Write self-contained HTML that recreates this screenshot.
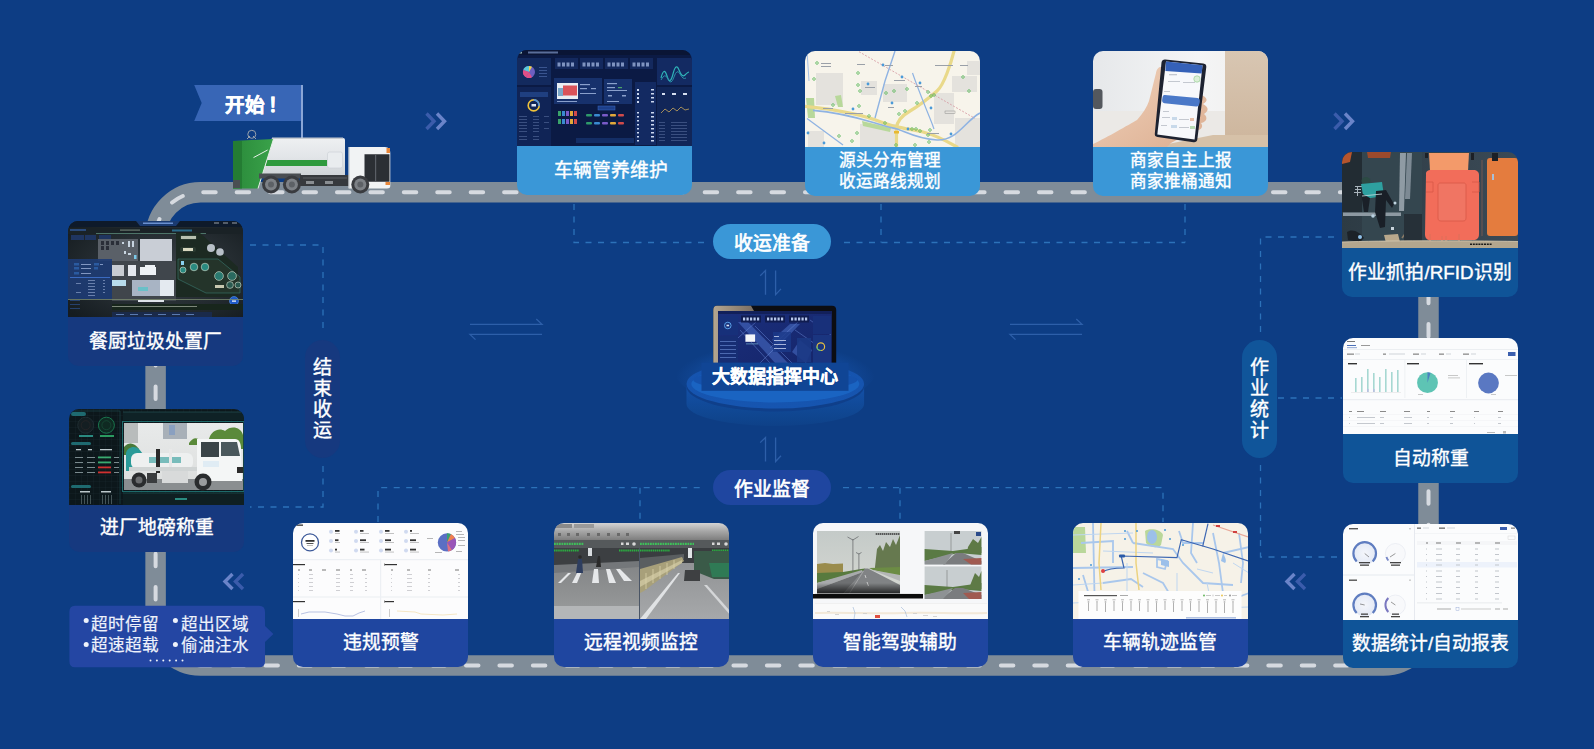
<!DOCTYPE html>
<html lang="zh-CN">
<head>
<meta charset="utf-8">
<style>
*{margin:0;padding:0;box-sizing:border-box}
html,body{width:1594px;height:749px;overflow:hidden;background:#0d3d84}
body{font-family:"Liberation Sans",sans-serif;color:#fff}
#wrap{position:relative;width:1594px;height:749px;overflow:hidden;background:#0d3d84}
.abs{position:absolute}
svg.full{position:absolute;left:0;top:0}
.card{position:absolute;width:175px;height:145px;border-radius:10px;overflow:hidden}
.card .img{position:absolute;left:0;top:0;width:100%;height:96px;overflow:hidden}
.card .lbl{position:absolute;left:0;top:96px;width:100%;bottom:0;display:flex;align-items:center;justify-content:center;text-align:center;font-size:18.8px;font-weight:400;line-height:20px;letter-spacing:0;-webkit-text-stroke:0.4px #fff}
.card .lbl.two{font-size:16.6px;line-height:20.9px}
.c1 .lbl{background:#3a97d7}
.c2 .lbl{background:#0f5498}
.c3 .lbl{background:#1f46a0}
.c4 .lbl{background:#16397f}
.pill{position:absolute;border-radius:18px;display:flex;align-items:center;justify-content:center;font-size:18.8px;font-weight:400;-webkit-text-stroke:0.7px #fff;padding-bottom:1px}
.nt{font-size:16.6px;line-height:20px;color:#eef2fb;white-space:nowrap;-webkit-text-stroke:0.2px #eef2fb}
.vpill{position:absolute;width:35px;height:118px;border-radius:18px;font-size:19px;font-weight:400;line-height:21px;text-align:center;padding-top:17px;-webkit-text-stroke:0.4px #fff}
</style>
</head>
<body>
<div id="wrap">

<!-- ROAD + DASHED LINES + ARROWS -->
<svg class="full" width="1594" height="749" viewBox="0 0 1594 749">
  <!-- dashed connectors -->
  <g fill="none" stroke="#2c72b9" stroke-width="1.3" stroke-dasharray="6 6.5">
    <path d="M574 204 V242.5 H704"/>
    <path d="M844 242.5 H1185 M881 204 V242.5 M1185 204 V242.5"/>
    <path d="M1334 237 H1260.5 V338"/>
    <path d="M1278 398 H1342"/>
    <path d="M1260.5 465 V557 H1342"/>
    <path d="M250 245 H323 V329"/>
    <path d="M323 466 V507 H250"/>
    <path d="M378 522 V487.7 H704"/>
    <path d="M640 487.7 V522"/>
    <path d="M843 487.7 H1163 V522 M900 487.7 V522"/>
  </g>
  <!-- road -->
  <path d="M200.5 192.3 H1383.5 A45 45 0 0 1 1428.5 237.3 V620.4 A45 45 0 0 1 1383.5 665.4 H200.5 A45 45 0 0 1 155.6 620.4 V237.3 A45 45 0 0 1 200.5 192.3 Z" fill="none" stroke="#7f8c98" stroke-width="20.5"/>
  <g fill="none" stroke="#d6dae0" stroke-width="4" stroke-linecap="round" stroke-dasharray="12.5 20.93">
    <path d="M155.6 237.3 A45 45 0 0 1 200.5 192.3 H1383.5" stroke-dashoffset="27.1"/>
    <path d="M1428.5 237.3 V620.4" stroke-dashoffset="13.49"/>
    <path d="M155.6 620.4 A45 45 0 0 0 200.5 665.4 H1383.5" stroke-dashoffset="31.77"/>
    <path d="M155.6 237.3 V620.4" stroke-dashoffset="17.95"/>
  </g>

  <!-- chevrons -->
  <g fill="none" stroke-width="3.4" stroke-linejoin="miter">
    <path d="M426.5 113.5 L434 121.2 L426.5 129" stroke="#3b5cab"/>
    <path d="M437 113.5 L444.5 121.2 L437 129" stroke="#6a84c9"/>
    <path d="M1334.5 113.5 L1342 121.2 L1334.5 129" stroke="#3b5cab"/>
    <path d="M1345 113.5 L1352.5 121.2 L1345 129" stroke="#6a84c9"/>
    <path d="M1294.5 574 L1287 581.5 L1294.5 589" stroke="#6a84c9"/>
    <path d="M1305 574 L1297.5 581.5 L1305 589" stroke="#3b5cab"/>
    <path d="M232.5 574 L225 581.5 L232.5 589" stroke="#6a84c9"/>
    <path d="M243 574 L235.5 581.5 L243 589" stroke="#3b5cab"/>
  </g>
  <!-- thin exchange arrows -->
  <g fill="none" stroke="#2d5fa9" stroke-width="1.3">
    <path d="M470 324.4 H542 L536.3 319"/>
    <path d="M542 334.4 H470 L475.5 339.6"/>
    <path d="M1010 324.4 H1082 L1076.3 319"/>
    <path d="M1082 334.4 H1010 L1015.5 339.6"/>
    <path d="M765.5 294.7 V270.6 L760.2 275.7"/>
    <path d="M775.6 270.6 V294.7 L781 288.9"/>
    <path d="M765.5 461.5 V437.5 L760.2 442.6"/>
    <path d="M775.6 437.5 V461.5 L781 455.7"/>
  </g>
</svg>

<!-- TOP ROW -->
<div class="card c1" style="left:517px;top:50px"><div class="img" id="imgA"><svg id="svA" width="175" height="96" viewBox="0 0 175 96" preserveAspectRatio="none">
 <rect width="175" height="96" fill="#0b1a44"/>
 <rect width="175" height="5" fill="#0a1535"/>
 <rect x="2" y="1.5" width="3" height="2" fill="#9bb"/>
 <rect x="11" y="1.5" width="30" height="2" fill="#5a6e9a"/>
 <rect x="0" y="8" width="34" height="27" fill="#132a5e"/>
 <rect x="0" y="37" width="34" height="59" fill="#102456"/>
 <circle cx="12" cy="22" r="6" fill="#6c5fc0"/>
 <path d="M12 22 L12 16 A6 6 0 0 0 6.3 20 Z" fill="#5bc8d8"/>
 <path d="M12 22 L6.3 20 A6 6 0 0 0 9 27.2 Z" fill="#e24f86"/>
 <path d="M12 22 L9 27.2 A6 6 0 0 0 15 27.2 Z" fill="#e24f86"/>
 <path d="M12 22 L12 16 A6 6 0 0 1 15 16.8 Z" fill="#f2d34a"/>
 <g fill="#3a5590"><rect x="22" y="17" width="8" height="1"/><rect x="22" y="20" width="8" height="1"/><rect x="22" y="23" width="8" height="1"/><rect x="22" y="26" width="8" height="1"/></g>
 <rect x="3" y="42" width="28" height="5" fill="#1f3f80"/>
 <circle cx="16.7" cy="55.4" r="5.5" fill="none" stroke="#f0c23a" stroke-width="1.6"/>
 <path d="M16.7 49.9 A5.5 5.5 0 0 1 22 56" fill="none" stroke="#4d8fe0" stroke-width="1.6"/>
 <rect x="14.5" y="54" width="4.5" height="2.5" fill="#dfe6f5"/>
 <g fill="#3a4f80"><rect x="2" y="66" width="8" height="1"/><rect x="16" y="66" width="6" height="1"/><rect x="27" y="66" width="5" height="1"/>
 <rect x="2" y="69" width="8" height="1"/><rect x="16" y="69" width="6" height="1"/><rect x="2" y="72" width="8" height="1"/><rect x="16" y="72" width="6" height="1"/><rect x="27" y="72" width="5" height="1"/>
 <rect x="2" y="75" width="8" height="1"/><rect x="16" y="75" width="6" height="1"/><rect x="2" y="78" width="8" height="1"/><rect x="16" y="78" width="6" height="1"/><rect x="27" y="78" width="5" height="1"/>
 <rect x="2" y="81" width="8" height="1"/><rect x="16" y="81" width="6" height="1"/><rect x="2" y="86" width="8" height="1"/><rect x="16" y="86" width="6" height="1"/><rect x="2" y="89" width="8" height="1"/><rect x="16" y="89" width="6" height="1"/></g>
 <g fill="#14295e"><rect x="38" y="8" width="23" height="11"/><rect x="63" y="8" width="23" height="11"/><rect x="88" y="8" width="23" height="11"/><rect x="113" y="8" width="23" height="11"/></g>
 <g fill="#7f93c0"><rect x="40.5" y="12.5" width="3" height="4"/><rect x="45" y="12.5" width="3" height="4"/><rect x="49.5" y="12.5" width="3" height="4"/><rect x="54" y="12.5" width="3" height="4"/>
 <rect x="65.5" y="12.5" width="3" height="4"/><rect x="70" y="12.5" width="3" height="4"/><rect x="74.5" y="12.5" width="3" height="4"/><rect x="79" y="12.5" width="3" height="4"/>
 <rect x="90.5" y="12.5" width="3" height="4"/><rect x="95" y="12.5" width="3" height="4"/><rect x="99.5" y="12.5" width="3" height="4"/><rect x="104" y="12.5" width="3" height="4"/>
 <rect x="115.5" y="12.5" width="3" height="4"/><rect x="120" y="12.5" width="3" height="4"/><rect x="124.5" y="12.5" width="3" height="4"/><rect x="129" y="12.5" width="3" height="4"/></g>
 <rect x="37" y="28" width="48" height="26" fill="#17316c"/>
 <rect x="40" y="33" width="21" height="16" fill="#e8eef4"/>
 <rect x="46" y="35.5" width="14" height="10" fill="#d9535a"/>
 <rect x="41" y="38" width="5" height="8" fill="#7aa7c8"/>
 <g fill="#8aa0cc"><rect x="63" y="34" width="10" height="1.2"/><rect x="63" y="38" width="7" height="1.2"/><rect x="74" y="38" width="5" height="1.2"/><rect x="63" y="43" width="16" height="1"/><rect x="40" y="51" width="20" height="1"/></g>
 <rect x="87" y="29" width="28" height="25" fill="#17316c"/>
 <g fill="#8aa0cc"><rect x="90" y="33" width="10" height="1.2"/><rect x="90" y="37" width="8" height="1.2"/><rect x="101" y="37" width="4" height="1.2" fill="#4ca36a"/><rect x="90" y="40" width="20" height="1"/><rect x="91" y="45" width="4" height="1.5"/><rect x="105" y="45" width="4" height="1.5"/><rect x="90" y="51" width="12" height="1"/></g>
 <rect x="118" y="32" width="21" height="63" fill="#132a62"/>
 <g fill="#ccd7ee"><rect x="120" y="39" width="2" height="2"/><rect x="120" y="43" width="2" height="2"/><rect x="120" y="47" width="2" height="2"/><rect x="120" y="51" width="2" height="2"/>
 <rect x="120" y="62" width="2" height="1.5"/><rect x="120" y="66" width="2" height="1.5"/><rect x="120" y="70" width="2" height="1.5"/><rect x="120" y="74" width="2" height="1.5"/><rect x="120" y="78" width="2" height="1.5"/><rect x="120" y="82" width="2" height="1.5"/><rect x="120" y="86" width="2" height="1.5"/><rect x="120" y="90" width="2" height="1.5"/>
 <rect x="134" y="39" width="3" height="1.5"/><rect x="134" y="43" width="3" height="1.5"/><rect x="134" y="47" width="3" height="1.5"/><rect x="134" y="51" width="3" height="1.5"/><rect x="134" y="62" width="3" height="1.5"/><rect x="134" y="66" width="3" height="1.5"/><rect x="134" y="70" width="3" height="1.5"/><rect x="134" y="74" width="3" height="1.5"/><rect x="134" y="78" width="3" height="1.5"/><rect x="134" y="82" width="3" height="1.5"/><rect x="134" y="86" width="3" height="1.5"/><rect x="134" y="90" width="3" height="1.5"/></g>
 <rect x="140" y="8" width="35" height="27" fill="#132a62"/>
 <path d="M144 28 Q147 16 150 26 T156 24 T162 20 T168 25 T172 22" fill="none" stroke="#2fb3b8" stroke-width="1.2"/>
 <path d="M144 30 Q148 22 151 29 T157 27 T163 24 T169 28" fill="none" stroke="#2a8fa8" stroke-width="1"/>
 <rect x="140" y="37" width="35" height="59" fill="#112658"/>
 <g fill="#d5def0"><rect x="145" y="43" width="3" height="2"/><rect x="155" y="43" width="4" height="2"/><rect x="166" y="43" width="4" height="2"/></g>
 <path d="M144 63 L148 59 L152 62 L156 58 L160 61 L164 57 L168 60 L172 59" fill="none" stroke="#c9a75a" stroke-width="0.8"/>
 <g fill="#3a4f80"><rect x="142" y="72" width="6" height="1"/><rect x="154" y="72" width="16" height="1"/><rect x="142" y="75" width="6" height="1"/><rect x="154" y="75" width="16" height="1"/><rect x="142" y="78" width="6" height="1"/><rect x="154" y="78" width="16" height="1"/><rect x="142" y="81" width="6" height="1"/><rect x="154" y="81" width="16" height="1"/><rect x="142" y="84" width="6" height="1"/><rect x="154" y="84" width="16" height="1"/><rect x="142" y="87" width="6" height="1"/><rect x="154" y="87" width="16" height="1"/><rect x="142" y="90" width="6" height="1"/><rect x="154" y="90" width="16" height="1"/></g>
 <g><rect x="41" y="61" width="3" height="5" fill="#3aa36a"/><rect x="45" y="61" width="3" height="5" fill="#3a8ad0"/><rect x="49" y="61" width="3" height="5" fill="#7a5ac8"/><rect x="53" y="61" width="3" height="5" fill="#e0a83a"/><rect x="57" y="61" width="3" height="5" fill="#d04a4a"/>
 <rect x="41" y="69" width="3" height="5" fill="#3aa36a"/><rect x="45" y="69" width="3" height="5" fill="#3a8ad0"/><rect x="49" y="69" width="3" height="5" fill="#7a5ac8"/><rect x="53" y="69" width="3" height="5" fill="#e0a83a"/><rect x="57" y="69" width="3" height="5" fill="#d04a4a"/>
 <rect x="69" y="64" width="6" height="2.5" rx="1" fill="#2f9a6a"/><rect x="77" y="64" width="6" height="2.5" rx="1" fill="#3a8ad0"/><rect x="85" y="64" width="6" height="2.5" rx="1" fill="#7a5ac8"/><rect x="93" y="64" width="6" height="2.5" rx="1" fill="#e0a83a"/><rect x="101" y="64" width="6" height="2.5" rx="1" fill="#d04a4a"/>
 <rect x="69" y="72" width="6" height="2.5" rx="1" fill="#2f9a6a"/><rect x="77" y="72" width="6" height="2.5" rx="1" fill="#3a8ad0"/><rect x="85" y="72" width="6" height="2.5" rx="1" fill="#7a5ac8"/><rect x="93" y="72" width="6" height="2.5" rx="1" fill="#e0a83a"/><rect x="101" y="72" width="6" height="2.5" rx="1" fill="#d04a4a"/></g>
 <rect x="81" y="56" width="17" height="4" fill="#1d3f8a" stroke="#3a6ac0" stroke-width="0.5"/>
 <rect x="59" y="88" width="58" height="5" fill="#142e66"/>
</svg></div><div class="lbl" style="padding-left:12px">车辆管养维护</div></div>
<div class="card c1" style="left:805px;top:51px"><div class="img" id="imgB"><svg id="svB" width="175" height="96" viewBox="0 0 175 96" preserveAspectRatio="none">
 <rect width="175" height="96" fill="#f7f4eb"/>
 <g fill="#e4e2dd">
  <rect x="11" y="22" width="27" height="32"/><rect x="78" y="33" width="24" height="18"/><rect x="55" y="73" width="36" height="23"/>
  <rect x="129" y="42" width="20" height="31"/><rect x="147" y="25" width="25" height="16"/><rect x="150" y="67" width="25" height="29"/>
  <rect x="56" y="30" width="16" height="14"/><rect x="162" y="10" width="13" height="14"/><rect x="3" y="80" width="16" height="16"/>
 </g>
 <path d="M1 47 L3 67 L10 67 L9 47 Z" fill="#b8d89a"/>
 <path d="M30 45 L36 44 L38 56 L33 56 Z" fill="#b8d89a"/>
 <path d="M57 70 L86 77 L85 81 L58 75 Z" fill="#b8d89a"/>
 <g fill="none" stroke="#e9d98a" stroke-linecap="round">
  <path d="M0 55.4 C20 57 35 60 51 63.4 S80 73 90 75.4 S110 79 118 81 S140 89 152 96" stroke-width="3.2"/>
  <path d="M91.5 96 L91.5 77 C92 70 98 64 105 60 S125 46 132 40 S146 12 149 0" stroke-width="3.2"/>
 </g>
 <g fill="none" stroke="#8fb3e2">
  <path d="M90 0 L80 30 L70 67" stroke-width="1.4"/>
  <path d="M8 59.4 C30 61 50 66 70 72 S85 76 92 78 S112 88 132 89 S160 70 175 62" stroke-width="1.6"/>
  <path d="M107.5 22 C112 35 118 50 122 60 S127 72 129 78" stroke-width="1.2"/>
  <path d="M2 67.4 L38 94" stroke-width="1.3"/>
  <path d="M2 0 L4 30" stroke-width="0.8"/>
 </g>
 <path d="M54 0.7 L170 67.4" stroke="#d8a0a8" stroke-width="0.9" stroke-dasharray="2 1.5"/>
 <g fill="none" stroke="#5ab85a" stroke-width="0.8">
  <circle cx="12" cy="12" r="1.3"/><circle cx="9" cy="28" r="1.3"/><circle cx="53" cy="22" r="1.3"/><circle cx="53" cy="34" r="1.3"/><circle cx="55" cy="40" r="1.3"/>
  <circle cx="81" cy="42" r="1.3"/><circle cx="89" cy="40" r="1.3"/><circle cx="102" cy="38" r="1.3"/><circle cx="112" cy="52" r="1.3"/><circle cx="123" cy="41" r="1.3"/>
  <circle cx="126" cy="45" r="1.3"/><circle cx="129" cy="44" r="1.3"/><circle cx="28" cy="54" r="1.3"/><circle cx="54" cy="55" r="1.3"/><circle cx="64" cy="65" r="1.3"/>
  <circle cx="80" cy="72" r="1.3"/><circle cx="94" cy="63" r="1.3"/><circle cx="100" cy="60" r="1.3"/><circle cx="107" cy="78" r="1.3"/><circle cx="111" cy="78" r="1.3"/>
  <circle cx="115" cy="80" r="1.3"/><circle cx="125" cy="79" r="1.3"/><circle cx="123" cy="84" r="1.3"/><circle cx="124" cy="91" r="1.3"/><circle cx="34" cy="85" r="1.3"/>
  <circle cx="52" cy="82" r="1.3"/><circle cx="47" cy="90" r="1.3"/><circle cx="158" cy="26" r="1.3"/><circle cx="164" cy="40" r="1.3"/><circle cx="91" cy="94" r="1.3"/><circle cx="110" cy="94" r="1.3"/>
 </g>
 <g fill="#4a9ad8"><circle cx="78" cy="14" r="1.4"/><circle cx="97" cy="26" r="1.4"/><circle cx="63" cy="33" r="1.4"/><circle cx="115" cy="32" r="1.4"/><circle cx="87" cy="52" r="1.4"/><circle cx="48" cy="58" r="1.4"/><circle cx="126" cy="57" r="1.4"/><circle cx="103" cy="78" r="1.4"/><circle cx="146" cy="83" r="1.4"/><circle cx="3" cy="82" r="1.4"/><circle cx="19" cy="92" r="1.4"/></g>
 <g fill="#9aa0a8"><rect x="16" y="12" width="10" height="1"/><rect x="16" y="15" width="10" height="1"/><rect x="52" y="13" width="8" height="1"/><rect x="80" y="14" width="8" height="1"/><rect x="89" y="29" width="11" height="1"/><rect x="60" y="36" width="10" height="1"/><rect x="110" y="35" width="7" height="1"/><rect x="130" y="14" width="18" height="1"/><rect x="155" y="14" width="8" height="1"/><rect x="83" y="56" width="6" height="1"/><rect x="140" y="60" width="10" height="2.5" fill="none" stroke="#777" stroke-width="0.4"/><rect x="18" y="57" width="10" height="1"/><rect x="40" y="62" width="18" height="1"/><rect x="122" y="82" width="12" height="1"/></g>
 <rect x="89" y="80" width="5" height="2.5" fill="#e8b830"/>
</svg></div><div class="lbl two" style="padding-right:6px">源头分布管理<br>收运路线规划</div></div>
<div class="card c1" style="left:1093px;top:51px"><div class="img" id="imgC"><svg id="svC" width="175" height="96" viewBox="0 0 175 96" preserveAspectRatio="none">
 <defs>
  <linearGradient id="gC1" x1="0" y1="0" x2="1" y2="0"><stop offset="0" stop-color="#e6e8ea"/><stop offset="0.6" stop-color="#f4f5f6"/><stop offset="1" stop-color="#f0eeec"/></linearGradient>
  <linearGradient id="gC2" x1="0" y1="0" x2="0" y2="1"><stop offset="0" stop-color="#d8c6b2"/><stop offset="1" stop-color="#cdb59c"/></linearGradient>
  <linearGradient id="gSk" x1="0" y1="0" x2="1" y2="1"><stop offset="0" stop-color="#f0d2bc"/><stop offset="1" stop-color="#dcae90"/></linearGradient>
 </defs>
 <rect width="175" height="96" fill="url(#gC1)"/>
 <rect x="132" y="0" width="43" height="96" fill="url(#gC2)"/>
 <rect x="0" y="60" width="132" height="36" fill="#ebe9e6"/>
 <path d="M60 96 L175 96 L175 84 L120 84 Z" fill="#d6c1a8"/>
 <rect x="0" y="38" width="9.5" height="20" rx="3" fill="#44484f" opacity="0.9"/>
 <path d="M0 96 L0 93 C15 86 35 74 44 69 C50 62 54 56 56 50 L63 22 C64 16 68 15 70 17 L72 40 L108 44 C114 46 116 50 110 53 C116 56 116 60 111 63 C115 66 114 71 108 72 C111 76 108 80 100 80 L78 92 L74 96 Z" fill="url(#gSk)"/>
 <path d="M72.3 8.5 L110.3 12.5 C112.5 12.8 113.5 14 113.3 16 L104.3 88.5 C104 90.5 102.5 91.5 100.5 91.2 L64.5 86 C62.5 85.7 61.5 84.5 61.8 82.5 L68.5 11.5 C68.8 9.3 70.3 8.3 72.3 8.5 Z" fill="#1d2230"/>
 <path d="M73 10.5 L109.5 14.3 L101.6 88.5 L64.3 83.5 Z" fill="#f7f8fb"/>
 <path d="M73 10.5 L109.5 14.3 L108.7 22.4 L72.4 20 Z" fill="#3561b8"/>
 <path d="M72 44 L104.5 47 C106.5 47.2 107 49 106.8 51 L106.3 53 C106 55 104.8 55.6 103 55.4 L71.5 52.2 C69.5 52 68.9 50.6 69.2 48.6 L69.6 46 C70 44.3 71 44 72 44 Z" fill="#4a78c8"/>
 <circle cx="104" cy="28" r="3.2" fill="#dcefd8" stroke="#8cc88a" stroke-width="0.6"/>
 <g fill="#c4c8d0"><rect x="76" y="23" width="8" height="1.3"/><rect x="75" y="30" width="12" height="1"/><rect x="90" y="31" width="12" height="1"/><rect x="71" y="40" width="6" height="1"/><rect x="70" y="60" width="6" height="1"/><rect x="69" y="66" width="8" height="1"/><rect x="86" y="68" width="10" height="1"/><rect x="68" y="74" width="6" height="1"/><rect x="86" y="76" width="10" height="1"/></g>
 <g fill="#c8d9ea"><rect x="79" y="66" width="5" height="3"/><rect x="78" y="74" width="6" height="3"/></g>
 <g fill="#b9dcb4"><rect x="97" y="75" width="5" height="3"/></g>
 <g fill="#e8c0a8"><rect x="97" y="67" width="4" height="3"/></g>
</svg></div><div class="lbl two">商家自主上报<br>商家推桶通知</div></div>

<!-- RIGHT COLUMN -->
<div class="card c2" style="left:1342px;top:152px;width:176px"><div class="img" id="imgD"><svg id="svD" width="176" height="96" viewBox="0 0 176 96" preserveAspectRatio="none">
 <defs>
  <linearGradient id="gD1" x1="0" y1="0" x2="1" y2="0"><stop offset="0" stop-color="#2d3b44"/><stop offset="1" stop-color="#3b4a56"/></linearGradient>
 </defs>
 <rect width="176" height="96" fill="url(#gD1)"/>
 <rect x="20" y="0" width="60" height="90" fill="#34464f"/>
 <rect x="0" y="0" width="20" height="60" fill="#222c33"/>
 <path d="M58 1 L64 1 L62 59 L57 59 Z" fill="#8f9ba4"/>
 <path d="M65 1 L70 1 L68 47 L63 47 Z" fill="#7d8a94"/>
 <rect x="1" y="60.5" width="58" height="3.5" fill="#8d99a2"/>
 <g fill="#a9b4bc"><rect x="13" y="34" width="7" height="1"/><rect x="13" y="37" width="6" height="1"/><rect x="12" y="40" width="7" height="1"/><rect x="15" y="34" width="1" height="10"/></g>
 <path d="M0 0 L10 0 L8 10 L0 12 Z" fill="#b5552e"/>
 <path d="M25 0 L49 0 L48 6 L26 6 Z" fill="#9c4a2c"/>
 <ellipse cx="24" cy="29" rx="4.5" ry="4" fill="#2c4a44"/>
 <path d="M19 32 L40 30 L42 44 L22 47 Z" fill="#2ea0a0"/>
 <path d="M19 41 L28 46 L26 60 L22 60 Z" fill="#1a2028"/>
 <path d="M34 39 L44 38 L52 52 L50 56 L44 48 L43 75 L38 76 L33 60 Z" fill="#191f27"/>
 <path d="M20 44 L40 42" stroke="#c8dde0" stroke-width="0.8"/>
 <circle cx="31" cy="64" r="1.8" fill="#b8d0e0"/><circle cx="53" cy="51" r="1.5" fill="#c0d4e0"/>
 <rect x="49" y="75" width="3" height="3" fill="#c8d4dc"/>
 <path d="M5 80 C10 76 18 80 22 86 L18 90 L6 88 Z" fill="#1c2228"/>
 <circle cx="18" cy="85" r="2" fill="#8ec0e8"/>
 <path d="M42 83 L56 82 L58 90 L44 91 Z" fill="#b8a88c"/>
 <path d="M60 86 L66 78" stroke="#8a7a66" stroke-width="1.5"/>
 <rect x="62" y="62" width="18" height="28" fill="#263038"/>
 <path d="M87 1 L127 1 L126 19 L88 19 Z" fill="#f39a6a"/>
 <rect x="83" y="1" width="3" height="5" fill="#1c2026"/><rect x="129" y="1" width="3" height="7" fill="#1c2026"/>
 <path d="M84 22 C84 19 86 18 89 18 L131 18 C135 18 137 20 137 23 L137 82 C137 86 135 88 131 88 L88 88 C85 88 83 86 83 82 Z" fill="#f26d5a"/>
 <path d="M96 33 C96 32 97 31 98 31 L122 31 C123 31 124 32 124 33 L124 66 C124 68 123 69 121 69 L99 69 C97 69 96 68 96 66 Z" fill="#f07563" stroke="#d85848" stroke-width="0.8"/>
 <path d="M84 30 L91 30 L91 40 L84 40 M130 30 L137 30 L137 40 L130 40" fill="none" stroke="#d85848" stroke-width="0.8"/>
 <path d="M88 82 L88 90 L100 90 L100 84 M104 84 L104 90 L117 90 L117 82" fill="none" stroke="#e0705a" stroke-width="1.2"/>
 <rect x="145" y="6" width="31" height="78" rx="3" fill="#e47c3e"/>
 <rect x="150" y="1" width="6" height="8" fill="#1c2026"/>
 <rect x="150" y="22" width="2" height="6" fill="#a8c0d8"/>
 <path d="M140 8 L140 84" stroke="#d07050" stroke-width="0.4"/>
 <path d="M0 90 C40 88.5 120 88.5 176 89.5 L176 96 L0 96 Z" fill="#b3a68e"/>
 <path d="M0 90 C40 88.5 120 88.5 176 89.5" stroke="#d8ccb4" stroke-width="0.8" fill="none"/>
 <path d="M128 92.2 H150" stroke="#1a1a1a" stroke-width="1.4" stroke-dasharray="2 0.8"/>
</svg></div><div class="lbl">作业抓拍/RFID识别</div></div>
<div class="card c2" style="left:1343px;top:338px"><div class="img" id="imgE"><svg id="svE" width="175" height="96" viewBox="0 0 175 96" preserveAspectRatio="none">
 <rect width="175" height="96" fill="#fbfcfd"/>
 <rect x="0" y="11" width="175" height="0.6" fill="#e3e6ec"/>
 <rect x="4" y="3" width="8" height="1" fill="#777"/>
 <rect x="4" y="7" width="9" height="1" fill="#4a6fb8"/><rect x="4" y="9.5" width="10" height="0.6" fill="#4a6fb8"/><rect x="18" y="7" width="9" height="1" fill="#999"/>
 <g fill="#8a8a8a"><rect x="4" y="15.5" width="7" height="1.3"/><rect x="40" y="15.5" width="3" height="1.3"/><rect x="70" y="15.5" width="6" height="1.3"/><rect x="96" y="15.5" width="5" height="1.3"/><rect x="120" y="15.5" width="6" height="1.3"/></g>
 <g fill="#d0d4da"><rect x="12" y="15.5" width="5" height="1"/><rect x="46" y="15.5" width="16" height="1"/><rect x="78" y="15.5" width="5" height="1"/><rect x="103" y="15.5" width="5" height="1"/><rect x="128" y="15.5" width="5" height="1"/></g>
 <rect x="165" y="14" width="7.5" height="4" fill="#3b5fae"/>
 <rect x="0" y="21" width="175" height="0.8" fill="#eceef2"/>
 <rect x="61.5" y="22" width="0.8" height="38" fill="#eceef2"/><rect x="123" y="22" width="0.8" height="38" fill="#eceef2"/>
 <rect x="0" y="61" width="175" height="1.2" fill="#eceef2"/>
 <g fill="#333"><rect x="5" y="25" width="9" height="1.4"/><rect x="64" y="25" width="12" height="1.4"/><rect x="126" y="25" width="14" height="1.4"/></g>
 <g fill="#a6d8d2"><rect x="12" y="40" width="1.6" height="14"/><rect x="18" y="39" width="1.6" height="15"/><rect x="24" y="31" width="1.6" height="23"/><rect x="30" y="35" width="1.6" height="19"/><rect x="36" y="39" width="1.6" height="15"/><rect x="42" y="31" width="1.6" height="23"/><rect x="48" y="34" width="1.6" height="20"/><rect x="54" y="32" width="1.6" height="22"/></g>
 <g fill="#b8c0e0"><rect x="24" y="51" width="1.6" height="3"/><rect x="30" y="51" width="1.6" height="3"/></g>
 <rect x="8" y="54" width="50" height="0.5" fill="#ddd"/>
 <circle cx="84.5" cy="44.7" r="10.4" fill="#5ec4b4"/>
 <path d="M84.5 44.7 L84.5 34.3 A10.4 10.4 0 0 1 87.6 34.8 Z" fill="#4a80c0"/>
 <circle cx="145.5" cy="45" r="10.4" fill="#5a78c2"/>
 <g fill="#bbb"><rect x="105" y="37" width="10" height="0.8"/><rect x="105" y="39.5" width="12" height="0.8"/><rect x="162" y="37" width="12" height="0.8"/><rect x="75" y="56" width="5" height="0.8"/><rect x="148" y="56" width="5" height="0.8"/></g>
 <g fill="#8a8a8a"><rect x="6" y="73" width="3" height="1"/><rect x="14" y="73" width="7" height="1"/><rect x="37" y="73" width="6" height="1"/><rect x="61" y="73" width="6" height="1"/><rect x="84" y="73" width="3" height="1"/><rect x="107" y="73" width="5" height="1"/><rect x="131" y="73" width="5" height="1"/><rect x="155" y="73" width="5" height="1"/></g>
 <g fill="#c4c8ce"><rect x="6" y="79" width="1" height="1"/><rect x="14" y="79" width="18" height="1"/><rect x="37" y="79" width="4" height="1"/><rect x="61" y="79" width="8" height="1"/><rect x="84" y="79" width="2" height="1"/><rect x="107" y="79" width="3" height="1"/><rect x="131" y="79" width="1" height="1"/><rect x="155" y="79" width="3" height="1"/>
 <rect x="6" y="85" width="1" height="1"/><rect x="14" y="85" width="18" height="1"/><rect x="37" y="85" width="4" height="1"/><rect x="61" y="85" width="8" height="1"/><rect x="84" y="85" width="2" height="1"/><rect x="107" y="85" width="3" height="1"/><rect x="131" y="85" width="1" height="1"/><rect x="155" y="85" width="3" height="1"/></g>
 <rect x="0" y="76" width="175" height="0.5" fill="#eef0f3"/><rect x="0" y="82" width="175" height="0.5" fill="#eef0f3"/><rect x="0" y="88" width="175" height="0.5" fill="#eef0f3"/>
 <g fill="#bbb"><rect x="144" y="94" width="8" height="1"/><rect x="160" y="93" width="3" height="2.5"/></g>
</svg></div><div class="lbl">自动称重</div></div>
<div class="card c2" style="left:1343px;top:524px;height:144px"><div class="img" id="imgF"><svg id="svF" width="175" height="96" viewBox="0 0 175 96" preserveAspectRatio="none">
 <defs>
  <radialGradient id="gG" cx="0.5" cy="0.5" r="0.5"><stop offset="0" stop-color="#f4f6fb"/><stop offset="0.85" stop-color="#e6ebf6"/><stop offset="1" stop-color="#dfe5f2"/></radialGradient>
 </defs>
 <rect width="175" height="96" fill="#fbfcfd"/>
 <rect x="71" y="0" width="1" height="96" fill="#e6e9ef"/>
 <rect x="0" y="50.5" width="71" height="1" fill="#e6e9ef"/>
 <g fill="#555"><rect x="6" y="4" width="9" height="1.4"/><rect x="6" y="55.5" width="8" height="1.4"/></g>
 <g fill="#ccc"><rect x="66" y="4" width="2" height="1.4"/><rect x="66" y="55.5" width="2" height="1.4"/></g>
 <circle cx="21.7" cy="29.5" r="11.3" fill="url(#gG)"/>
 <path d="M13.7 37.5 A11.3 11.3 0 1 1 29.7 37.5" fill="none" stroke="#5f7dc0" stroke-width="2.2"/>
 <path d="M21.7 29.5 L26 33" stroke="#555" stroke-width="0.6"/>
 <g fill="#444"><rect x="16" y="38" width="11" height="1.3"/><rect x="17" y="40.5" width="9" height="1.3"/></g>
 <circle cx="52.4" cy="29.5" r="10" fill="#f8f9fb" stroke="#e2e6ee" stroke-width="0.6"/>
 <path d="M45.3 36.5 A10 10 0 0 1 43.5 33" fill="none" stroke="#7a8ac8" stroke-width="2"/>
 <path d="M52.4 29.5 L47 33" stroke="#555" stroke-width="0.6"/>
 <g fill="#444"><rect x="47" y="38" width="11" height="1.3"/><rect x="48" y="40.5" width="9" height="1.3"/></g>
 <circle cx="21.7" cy="81" r="11.3" fill="url(#gG)"/>
 <path d="M13.7 89 A11.3 11.3 0 1 1 29.7 89" fill="none" stroke="#5f7dc0" stroke-width="2.2"/>
 <path d="M21.7 81 L17 80" stroke="#555" stroke-width="0.6"/>
 <g fill="#444"><rect x="18" y="89.5" width="7" height="1.3"/><rect x="17" y="92" width="9" height="1.3"/></g>
 <circle cx="52.4" cy="81" r="10" fill="#f8f9fb" stroke="#e2e6ee" stroke-width="0.6"/>
 <path d="M45.3 88 A10 10 0 0 1 45.3 74" fill="none" stroke="#7a78c0" stroke-width="2"/>
 <path d="M52.4 81 L48 78" stroke="#555" stroke-width="0.6"/>
 <g fill="#444"><rect x="49" y="89.5" width="7" height="1.3"/><rect x="48" y="92" width="9" height="1.3"/></g>
 <g fill="#666"><rect x="74" y="3.5" width="4" height="1.3"/><rect x="96" y="3.5" width="6" height="1.3"/></g>
 <g fill="#d4d8de"><rect x="80" y="3.5" width="6" height="1"/><rect x="104" y="3.5" width="8" height="1"/></g>
 <rect x="157" y="3" width="7" height="3" fill="#3b5fae"/>
 <rect x="168" y="3.5" width="4" height="1.3" fill="#888"/>
 <rect x="72" y="9" width="103" height="0.6" fill="#eef0f3"/>
 <rect x="165" y="12" width="7" height="3.5" fill="none" stroke="#ccc" stroke-width="0.4"/>
 <rect x="74" y="17" width="100" height="4" fill="#f5f6f8"/>
 <g fill="#777"><rect x="83" y="18.5" width="2" height="1"/><rect x="93" y="18.5" width="5" height="1"/><rect x="113" y="18.5" width="5" height="1"/><rect x="132" y="18.5" width="5" height="1"/><rect x="152" y="18.5" width="5" height="1"/></g>
 <rect x="74" y="38" width="100" height="5.5" fill="#edf2fb"/>
 <g fill="#c2c6cc">
  <rect x="83" y="24.5" width="1" height="1"/><rect x="93" y="24.5" width="6" height="1"/><rect x="113" y="24.5" width="4" height="1"/><rect x="132" y="24.5" width="3" height="1"/><rect x="152" y="24.5" width="4" height="1"/>
  <rect x="83" y="30" width="1" height="1"/><rect x="93" y="30" width="6" height="1"/><rect x="113" y="30" width="4" height="1"/><rect x="132" y="30" width="3" height="1"/><rect x="152" y="30" width="4" height="1"/>
  <rect x="83" y="35.5" width="1" height="1"/><rect x="93" y="35.5" width="6" height="1"/><rect x="113" y="35.5" width="4" height="1"/><rect x="132" y="35.5" width="3" height="1"/><rect x="152" y="35.5" width="4" height="1"/>
  <rect x="83" y="40.5" width="1" height="1"/><rect x="93" y="40.5" width="6" height="1"/><rect x="113" y="40.5" width="4" height="1"/><rect x="132" y="40.5" width="3" height="1"/><rect x="152" y="40.5" width="4" height="1"/>
  <rect x="83" y="46.5" width="1" height="1"/><rect x="93" y="46.5" width="6" height="1"/><rect x="113" y="46.5" width="4" height="1"/><rect x="132" y="46.5" width="3" height="1"/><rect x="152" y="46.5" width="4" height="1"/>
  <rect x="83" y="52" width="1" height="1"/><rect x="93" y="52" width="6" height="1"/><rect x="113" y="52" width="4" height="1"/><rect x="132" y="52" width="3" height="1"/><rect x="152" y="52" width="4" height="1"/>
  <rect x="83" y="57.5" width="1" height="1"/><rect x="93" y="57.5" width="6" height="1"/><rect x="113" y="57.5" width="4" height="1"/><rect x="132" y="57.5" width="3" height="1"/><rect x="152" y="57.5" width="4" height="1"/>
  <rect x="83" y="63" width="1" height="1"/><rect x="93" y="63" width="6" height="1"/><rect x="113" y="63" width="4" height="1"/><rect x="132" y="63" width="3" height="1"/><rect x="152" y="63" width="4" height="1"/>
  <rect x="83" y="69" width="1" height="1"/><rect x="93" y="69" width="6" height="1"/><rect x="113" y="69" width="4" height="1"/><rect x="132" y="69" width="3" height="1"/><rect x="152" y="69" width="4" height="1"/>
  <rect x="83" y="74.5" width="1" height="1"/><rect x="93" y="74.5" width="6" height="1"/><rect x="113" y="74.5" width="4" height="1"/><rect x="132" y="74.5" width="3" height="1"/><rect x="152" y="74.5" width="4" height="1"/>
 </g>
 <rect x="74" y="78.5" width="85" height="0.8" fill="#e4e6ea"/>
 <g fill="#aaa"><rect x="94" y="84.5" width="14" height="1"/><rect x="113" y="83.5" width="3" height="3" fill="none" stroke="#8aa0d0" stroke-width="0.4"/><rect x="118" y="84.5" width="30" height="1" fill="#ccc"/><rect x="152" y="84.5" width="5" height="1"/><rect x="160" y="84.5" width="5" height="1"/></g>
</svg></div><div class="lbl">数据统计/自动报表</div></div>

<!-- BOTTOM ROW -->
<div class="card c3" style="left:293px;top:523px;height:144px"><div class="img" id="imgG"><svg id="svG" width="176" height="96" viewBox="0 0 176 96" preserveAspectRatio="none">
 <rect width="176" height="96" fill="#fcfcfd"/>
 <rect x="1" y="1.5" width="9" height="1.3" fill="#333"/>
 <circle cx="17" cy="19.4" r="8.5" fill="#fff" stroke="#3d5a9a" stroke-width="1.3"/>
 <rect x="12.5" y="17" width="9" height="1.8" fill="#333"/><rect x="13.5" y="20" width="7" height="1" fill="#555"/><rect x="14" y="22" width="6" height="0.8" fill="#aaa"/>
 <g fill="#d0daf0">
  <circle cx="38" cy="8.7" r="2"/><circle cx="63" cy="8.7" r="2"/><circle cx="88" cy="8.7" r="2"/><circle cx="113" cy="8.7" r="2"/>
  <circle cx="38" cy="18" r="2"/><circle cx="63" cy="18" r="2"/><circle cx="88" cy="18" r="2"/><circle cx="113" cy="18" r="2"/>
  <circle cx="38" cy="27.4" r="2"/><circle cx="63" cy="27.4" r="2"/><circle cx="88" cy="27.4" r="2"/><circle cx="113" cy="27.4" r="2"/>
 </g>
 <g fill="#333">
  <rect x="42" y="7" width="4.5" height="1.8"/><rect x="67" y="7" width="3.5" height="1.8"/><rect x="92" y="7" width="4.5" height="1.8"/><rect x="117" y="7" width="2" height="1.8"/>
  <rect x="42" y="16.3" width="3.5" height="1.8"/><rect x="67" y="16.3" width="6" height="1.8"/><rect x="92" y="16.3" width="6" height="1.8"/><rect x="117" y="16.3" width="6" height="1.8"/>
  <rect x="42" y="25.7" width="2" height="1.8"/><rect x="67" y="25.7" width="4.5" height="1.8"/><rect x="92" y="25.7" width="6" height="1.8"/><rect x="117" y="25.7" width="6" height="1.8"/>
 </g>
 <g fill="#aaa">
  <rect x="42" y="10" width="5" height="0.7"/><rect x="67" y="10" width="9" height="0.7"/><rect x="92" y="10" width="9" height="0.7"/><rect x="117" y="10" width="9" height="0.7"/>
  <rect x="42" y="19.3" width="5" height="0.7"/><rect x="67" y="19.3" width="9" height="0.7"/><rect x="92" y="19.3" width="9" height="0.7"/><rect x="117" y="19.3" width="9" height="0.7"/>
  <rect x="42" y="28.7" width="5" height="0.7"/><rect x="67" y="28.7" width="9" height="0.7"/><rect x="92" y="28.7" width="9" height="0.7"/><rect x="117" y="28.7" width="9" height="0.7"/>
 </g>
 <circle cx="154" cy="19.4" r="9.2" fill="#5b6fc4"/>
 <path d="M154 19.4 L154 10.2 A9.2 9.2 0 0 1 158 11.1 Z" fill="#3aa070"/>
 <path d="M154 19.4 L158 11.1 A9.2 9.2 0 0 1 162 15 Z" fill="#f08050"/>
 <path d="M154 19.4 L162 15 A9.2 9.2 0 0 1 159 27 Z" fill="#9a55b8"/>
 <path d="M154 19.4 L159 27 A9.2 9.2 0 0 1 155 28.5 Z" fill="#e07080"/>
 <g fill="#999"><rect x="134" y="15" width="6" height="0.7"/><rect x="163" y="8" width="6" height="0.7"/><rect x="163" y="11" width="8" height="0.7"/><rect x="165" y="14" width="7" height="0.7"/><rect x="165" y="17" width="7" height="0.7"/><rect x="165" y="22" width="7" height="0.7"/><rect x="163" y="28" width="6" height="0.7"/><rect x="142" y="29" width="7" height="0.7"/></g>
 <rect x="0" y="36" width="176" height="1.2" fill="#edf0f4"/>
 <rect x="87" y="37" width="1.2" height="59" fill="#edf0f4"/>
 <rect x="0" y="73.4" width="176" height="1.2" fill="#edf0f4"/>
 <g fill="#333"><rect x="0" y="41" width="12" height="1.2"/><rect x="92" y="41" width="12" height="1.2"/><rect x="0" y="78" width="12" height="1.2"/><rect x="92" y="78" width="9" height="1.2"/><rect x="91" y="40.5" width="0.6" height="2.2"/><rect x="91" y="77.5" width="0.6" height="2.2"/></g>
 <g fill="#777"><rect x="5" y="46.5" width="2" height="1"/><rect x="16" y="46.5" width="3" height="1"/><rect x="29" y="46.5" width="4" height="1"/><rect x="43" y="46.5" width="4" height="1"/><rect x="57" y="46.5" width="2" height="1"/><rect x="69" y="46.5" width="4" height="1"/>
 <rect x="98" y="46.5" width="2" height="1"/><rect x="114" y="46.5" width="3" height="1"/><rect x="135" y="46.5" width="3" height="1"/><rect x="162" y="46.5" width="4" height="1"/></g>
 <g fill="#c4c4c8">
  <rect x="5" y="51" width="1" height="0.8"/><rect x="16" y="51" width="4" height="0.8"/><rect x="43" y="51" width="4" height="0.8"/><rect x="57" y="51" width="3" height="0.8"/><rect x="72" y="51" width="2" height="0.8"/>
  <rect x="5" y="55" width="1" height="0.8"/><rect x="16" y="55" width="4" height="0.8"/><rect x="43" y="55" width="4" height="0.8"/><rect x="57" y="55" width="3" height="0.8"/><rect x="72" y="55" width="2" height="0.8"/>
  <rect x="5" y="59" width="1" height="0.8"/><rect x="16" y="59" width="4" height="0.8"/><rect x="43" y="59" width="4" height="0.8"/><rect x="57" y="59" width="4" height="0.8"/><rect x="72" y="59" width="2" height="0.8"/>
  <rect x="5" y="63" width="1" height="0.8"/><rect x="16" y="63" width="4" height="0.8"/><rect x="43" y="63" width="4" height="0.8"/><rect x="57" y="63" width="3" height="0.8"/><rect x="72" y="63" width="2" height="0.8"/>
  <rect x="5" y="67" width="1" height="0.8"/><rect x="16" y="67" width="4" height="0.8"/><rect x="43" y="67" width="4" height="0.8"/><rect x="57" y="67" width="3" height="0.8"/><rect x="72" y="67" width="2" height="0.8"/>
  <rect x="98" y="51" width="1" height="0.8"/><rect x="114" y="51" width="5" height="0.8"/><rect x="135" y="51" width="2" height="0.8"/><rect x="165" y="51" width="2" height="0.8"/>
  <rect x="98" y="55" width="1" height="0.8"/><rect x="114" y="55" width="5" height="0.8"/><rect x="135" y="55" width="2" height="0.8"/><rect x="165" y="55" width="2" height="0.8"/>
  <rect x="98" y="59" width="1" height="0.8"/><rect x="114" y="59" width="5" height="0.8"/><rect x="135" y="59" width="2" height="0.8"/><rect x="165" y="59" width="2" height="0.8"/>
  <rect x="98" y="63" width="1" height="0.8"/><rect x="114" y="63" width="5" height="0.8"/><rect x="135" y="63" width="2" height="0.8"/><rect x="165" y="63" width="2" height="0.8"/>
  <rect x="98" y="67" width="1" height="0.8"/><rect x="114" y="67" width="5" height="0.8"/><rect x="135" y="67" width="2" height="0.8"/><rect x="165" y="67" width="2" height="0.8"/>
 </g>
 <path d="M8 91 L16 89 L32 89 L44 91 L52 93 L60 93 L66 90 L72 88" fill="none" stroke="#8a9ad0" stroke-width="0.6"/>
 <path d="M104 88 L122 89 L128 91 L150 92 L164 91" fill="none" stroke="#f0d8a0" stroke-width="0.6"/>
 <g fill="#ccc"><rect x="5" y="86" width="1" height="8"/><rect x="96" y="86" width="1" height="8"/></g>
</svg></div><div class="lbl">违规预警</div></div>
<div class="card c3" style="left:553.5px;top:523px;height:144px"><div class="img" id="imgH"><svg id="svH" width="176" height="96" viewBox="0 0 176 96" preserveAspectRatio="none">
 <defs>
  <linearGradient id="gH1" x1="0" y1="0" x2="0" y2="1"><stop offset="0" stop-color="#d4d4d4"/><stop offset="0.5" stop-color="#a5a5a5"/><stop offset="1" stop-color="#7e7e7e"/></linearGradient>
  <linearGradient id="gH2" x1="0" y1="0" x2="0" y2="1"><stop offset="0" stop-color="#7d7f81"/><stop offset="0.6" stop-color="#8e9091"/><stop offset="1" stop-color="#9b9d9e"/></linearGradient>
  <linearGradient id="gH3" x1="0" y1="0" x2="0" y2="1"><stop offset="0" stop-color="#8c8e90"/><stop offset="1" stop-color="#a6a8aa"/></linearGradient>
 </defs>
 <rect width="176" height="17" fill="url(#gH1)"/>
 <rect x="2" y="1" width="16" height="4" fill="#8a8a8a"/><rect x="20" y="1" width="20" height="4" fill="#9a9a9a"/>
 <g fill="#6a6a6a"><rect x="4" y="10" width="3" height="3"/><rect x="13" y="10" width="3" height="3"/><rect x="22" y="10" width="3" height="3"/><rect x="33" y="10" width="3" height="3"/><rect x="43" y="10" width="3" height="3"/><rect x="53" y="10" width="3" height="3"/><rect x="63" y="10" width="3" height="3"/><rect x="72" y="10" width="3" height="3"/></g>
 <rect x="0" y="17" width="176" height="8" fill="#55595b"/>
 <path d="M0 20.8 H30" stroke="#3fbf5a" stroke-width="2.2" stroke-dasharray="1.8 0.7"/>
 <path d="M86 20.8 H140" stroke="#3fbf5a" stroke-width="2.2" stroke-dasharray="1.8 0.7"/>
 <g fill="#d8d8d8"><rect x="67" y="19.5" width="2.5" height="2.5"/><rect x="72" y="19.5" width="3" height="2.5"/><circle cx="80" cy="21" r="1.8"/><rect x="158" y="19.5" width="2.5" height="2.5"/><rect x="163" y="19.5" width="3" height="2.5"/><circle cx="172" cy="21" r="1.8"/></g>
 <rect x="0" y="25" width="85" height="71" fill="url(#gH2)"/>
 <rect x="0" y="25" width="85" height="17" fill="#3c3f42"/>
 <rect x="34" y="25" width="4" height="8" fill="#d8dcdf"/>
 <path d="M0 42 L85 38 L85 44 L0 50 Z" fill="#74777a"/>
 <path d="M0 27.5 H25 M65 27.5 H85" stroke="#2ab040" stroke-width="2" stroke-dasharray="1.5 0.6"/>
 <g fill="#e6e8ea">
  <path d="M4 60 L14 50 L17 50 L7 60 Z"/><path d="M18 60 L24 48 L28 48 L23 60 Z"/><path d="M38 60 L40 46 L44 46 L45 60 Z"/><path d="M55 60 L52 46 L56 46 L62 60 Z"/><path d="M70 58 L62 46 L66 46 L78 58 Z"/>
 </g>
 <path d="M22 50 L24 36 L28 36 L29 50 Z" fill="#2e3e60"/>
 <circle cx="26" cy="34" r="1.8" fill="#2a2a2a"/>
 <path d="M42 44 L44 33 L46 33 L47 44 Z" fill="#2a2a2a"/>
 <rect x="0" y="83" width="85" height="13" fill="#b4b6b8"/>
 <rect x="85" y="25" width="0.8" height="71" fill="#5a5c5e"/>
 <rect x="86" y="25" width="90" height="71" fill="url(#gH3)"/>
 <rect x="86" y="25" width="90" height="15" fill="#3a3d40"/>
 <rect x="134" y="25" width="4" height="10" fill="#e0e4e6"/>
 <path d="M86 35 L130 31 L130 36 L86 50 Z" fill="#5a5e60"/>
 <path d="M86 27.5 H116 M158 27.5 H176" stroke="#2ab040" stroke-width="2" stroke-dasharray="1.5 0.6"/>
 <path d="M86 46 L128 34 L130 38 L90 68 L86 70 Z" fill="#a8a07a"/>
 <path d="M86 58 L128 37 L128 40 L86 64 Z" fill="#c8c09a"/>
 <g stroke="#d8d0a8" stroke-width="0.8"><path d="M92 50 L92 66"/><path d="M99 46 L99 60"/><path d="M106 43 L106 56"/><path d="M113 40 L113 52"/><path d="M120 37 L120 46"/></g>
 <path d="M140 28 L176 28 L176 56 L160 56 L140 48 Z" fill="#3a5a48"/>
 <path d="M155 40 L176 40 L176 54 L158 54 Z" fill="#2f7a55"/>
 <path d="M131 47 L146 47 L146 58 L130 58 Z" fill="#3e4042"/>
 <path d="M86 96 L124 50 L126 50 L92 96 Z" fill="#e0e2e4"/>
 <path d="M150 62 L176 92 L176 88 L153 62 Z" fill="#d4d6d8"/>
</svg></div><div class="lbl">远程视频监控</div></div>
<div class="card c3" style="left:812.5px;top:523px;height:144px"><div class="img" id="imgI"><svg id="svI" width="176" height="96" viewBox="0 0 176 96" preserveAspectRatio="none">
 <defs>
  <linearGradient id="gI1" x1="0" y1="0" x2="0" y2="1"><stop offset="0" stop-color="#c4cac8"/><stop offset="1" stop-color="#d6d8d2"/></linearGradient>
  <linearGradient id="gI2" x1="0" y1="0" x2="0" y2="1"><stop offset="0" stop-color="#000" stop-opacity="0"/><stop offset="1" stop-color="#000" stop-opacity="0.75"/></linearGradient>
 </defs>
 <rect width="176" height="96" fill="#f6f7f9"/>
 <rect x="4" y="8" width="83" height="63" fill="url(#gI1)"/>
 <path d="M4 41 L12 40 L20 41 L30 40.5 L30 51 L4 52 Z" fill="#9a8c4c"/>
 <path d="M4 50 L30 49 L48 46 L52 45.5 L52 48 L4 60 Z" fill="#587a3e"/>
 <path d="M62 44 L64 26 L67 22 L70 28 L73 19 L77 24 L80 16 L83 22 L87 12 L87 46 L62 46 Z" fill="#66794f"/>
 <path d="M56 45 L87 44 L87 54 L60 47 Z" fill="#6c8c44"/>
 <path d="M4 60 L49 47 L50 49 L4 66 Z" fill="#a8aaac"/>
 <path d="M4 66 L50 49 L30 71 L4 71 Z" fill="#6e7072"/>
 <path d="M52 45.5 L55 45.5 L87 62 L87 71 L30 71 Z" fill="#818385"/>
 <path d="M57 46.5 L87 52 L87 58 L60 47.5 Z" fill="#b4b6b6"/>
 <path d="M52 52 L53 55 M54 59 L55.5 63" stroke="#e6e6e6" stroke-width="0.7"/>
 <path d="M36 71 L50.5 48" stroke="#c8c8c8" stroke-width="0.5"/>
 <g stroke="#5e6264" stroke-width="0.7" fill="none"><path d="M39.9 49 L39.9 16 M34.5 14 L39.9 17 L45.5 13.5"/><path d="M45.9 47 L45.9 30.5 M43 29.5 L45.9 31 L48.5 29.5"/></g>
 <rect x="4" y="60" width="83" height="11" fill="url(#gI2)"/>
 <path d="M62.7 11 H87" stroke="#333" stroke-width="1.3" stroke-dasharray="1.5 0.5"/>
 <rect x="0" y="71" width="110" height="4.5" fill="#0c0c0c"/>
 <rect x="2" y="70.2" width="105" height="0.6" fill="#ddd"/>
  <rect x="111.6" y="8" width="56.8" height="33.4" fill="#c8ced0"/>
 <path d="M111.6 26 L140 28 L168.4 24 L168.4 32 L145 30 L111.6 38 Z" fill="#5a7a44"/>
 <path d="M155 24 L160 16 L165 20 L168.4 14 L168.4 30 L154 30 Z" fill="#5e7a46"/>
 <path d="M130 41.4 L143 30 L150 30 L168.4 38 L168.4 41.4 Z" fill="#7a7c7e"/>
 <path d="M150 36 L168.4 35 L168.4 41.4 L158 41.4 Z" fill="#a05a50"/>
 <path d="M111.6 38 L140 30 L132 41.4 L111.6 41.4 Z" fill="#8e9294"/>
 <path d="M138 28 L138 10" stroke="#666" stroke-width="0.5"/>
 <rect x="141" y="8" width="6" height="3" fill="#444"/>
 <rect x="163" y="9" width="5" height="4" fill="#2a4a8a"/>
 <rect x="111.6" y="43.4" width="56.8" height="32.6" fill="#c8ced0"/>
 <path d="M111.6 62 L140 64 L168.4 60 L168.4 68 L145 66 L111.6 72 Z" fill="#5a7a44"/>
 <path d="M158 60 L162 50 L166 54 L168.4 48 L168.4 66 L156 66 Z" fill="#5e7a46"/>
 <path d="M128 76 L142 65 L150 65 L168.4 72 L168.4 76 Z" fill="#7a7c7e"/>
 <path d="M150 70 L168.4 69 L168.4 76 L156 76 Z" fill="#a05a50"/>
 <path d="M111.6 72 L140 65 L130 76 L111.6 76 Z" fill="#8e9294"/>
 <path d="M134 64 L134 47" stroke="#666" stroke-width="0.5"/>
 <rect x="2" y="80" width="172" height="16" fill="#fafafa"/>
 <rect x="2" y="80" width="172" height="0.5" fill="#e6e6e6"/>
 <path d="M2 90 C30 89 60 91 90 90 S140 91 174 90" stroke="#f2e8d8" stroke-width="2" fill="none"/>
 <g fill="#aab8cc"><path d="M40 84 L42 90 L41 96" stroke="#8aa8d0" stroke-width="0.5" fill="none"/><path d="M88 84 L92 88 L94 94" stroke="#8aa8d0" stroke-width="0.5" fill="none"/></g>
 <rect x="62" y="92" width="5" height="3" fill="#e05040"/>
 <g fill="#ccc"><rect x="14" y="88" width="3" height="0.8"/><rect x="22" y="91" width="4" height="0.8"/><rect x="50" y="90" width="4" height="0.8"/><rect x="100" y="90" width="4" height="0.8"/><rect x="110" y="92" width="5" height="0.8"/><rect x="120" y="93" width="4" height="0.8"/></g>
</svg></div><div class="lbl">智能驾驶辅助</div></div>
<div class="card c3" style="left:1072.5px;top:523px;height:144px"><div class="img" id="imgJ"><svg id="svJ" width="176" height="96" viewBox="0 0 176 96" preserveAspectRatio="none">
 <rect width="176" height="96" fill="#f6f2e8"/>
 <path d="M0 4 L12 4 L13 30 L0 30 Z" fill="#b9d79a"/>
 <path d="M72 8 C76 5 88 6 90 12 L88 22 C84 26 76 24 73 20 Z" fill="#b9d79a"/>
 <ellipse cx="79" cy="14" rx="5" ry="7" fill="#9cc0ea"/>
 <g fill="none" stroke="#a9c7ec" stroke-width="1.8">
  <path d="M20 0 L22 96"/><path d="M0 45 L60 44"/><path d="M8 20 L40 18 L40 40"/><path d="M30 60 L58 56 L70 64"/><path d="M44 70 L46 96"/>
  <path d="M60 20 L100 26 L110 40 L130 60 L160 62"/><path d="M70 50 L90 60 L96 70 L100 96"/><path d="M120 0 L118 30 L124 40"/><path d="M140 10 L146 40 L150 70 L160 96"/>
  <path d="M100 76 L130 72 L160 76 L176 70"/><path d="M150 30 L176 24"/><path d="M84 36 L94 38 L92 46 L84 44 Z"/><path d="M10 52 L16 72 L8 90"/><path d="M54 8 L60 20"/><path d="M106 8 L110 20 L130 20"/><path d="M166 10 L170 40 L168 60"/>
 </g>
 <g fill="none" stroke="#bfd6f0" stroke-width="1">
  <path d="M0 12 L60 10"/><path d="M30 28 L80 30"/><path d="M0 62 L30 60"/><path d="M54 40 L54 70"/><path d="M66 70 L90 80"/><path d="M104 50 L104 70 L120 80"/><path d="M124 46 L140 50"/><path d="M134 60 L140 90"/><path d="M110 86 L176 84"/><path d="M160 40 L176 50"/><path d="M0 80 L40 78"/><path d="M60 86 L100 88"/>
 </g>
 <path d="M88 36 L96 38 L96 44 L88 42 Z" fill="#9cc0ea"/>
 <path d="M150 30 C152 34 154 38 152 40 L148 38 Z" fill="#9cc0ea"/>
 <g fill="none" stroke="#ecd380" stroke-width="1.5"><path d="M28 0 L27 20 L26 40 L28 67"/><path d="M63 0 L63 40 L66 67"/></g>
 <g fill="none" stroke="#3d67b2" stroke-width="1.2"><path d="M29.5 49 C34 46 40 45 51 45 L48.2 33 L104 34.7 L108.3 16.7 L140 26 L175 38"/><path d="M129.7 23.4 L135 0.7"/></g>
 <rect x="46" y="31.5" width="6" height="3" rx="1" fill="#2a5aa8"/>
 <circle cx="30" cy="48" r="2" fill="#e04040"/>
 <path d="M140 2 L175 14" stroke="#e8a898" stroke-width="1.3"/>
 <rect x="143" y="2" width="4" height="2" fill="#d04040"/><rect x="160" y="8" width="4" height="2" fill="#d04040"/>
 <g fill="#4a9ad8"><circle cx="52" cy="8" r="1"/><circle cx="64" cy="8" r="1"/><circle cx="92" cy="7" r="1"/><circle cx="52" cy="16" r="1"/><circle cx="97" cy="16" r="1"/><circle cx="18" cy="42" r="1"/><circle cx="6" cy="56" r="1"/><circle cx="110" cy="22" r="1"/></g>
 <rect x="5.5" y="68" width="163" height="28" fill="#fdfdfd"/>
 <rect x="11" y="72" width="33" height="1.2" fill="#555"/><rect x="47" y="72" width="8" height="1" fill="#aaa"/>
 <g><circle cx="131" cy="72.5" r="0.9" fill="#5ab050"/><rect x="133" y="72" width="5" height="0.8" fill="#bbb"/><circle cx="140" cy="72.5" r="0.9" fill="#ddd"/><rect x="142" y="72" width="5" height="0.8" fill="#bbb"/><circle cx="149" cy="72.5" r="0.9" fill="#e8c040"/><rect x="151" y="72" width="3" height="0.8" fill="#bbb"/><circle cx="157" cy="72.5" r="0.9" fill="#888"/><rect x="159" y="72" width="5" height="0.8" fill="#bbb"/></g>
 <g fill="#999">
  <rect x="14" y="76.5" width="3" height="0.7"/><rect x="22.5" y="76.5" width="3" height="0.7"/><rect x="31" y="76.5" width="3" height="0.7"/><rect x="39.5" y="76.5" width="3" height="0.7"/><rect x="48" y="76.5" width="3" height="0.7"/><rect x="56.5" y="76.5" width="3" height="0.7"/><rect x="65" y="76.5" width="3" height="0.7"/><rect x="73.5" y="76.5" width="3" height="0.7"/><rect x="82" y="76.5" width="3" height="0.7"/><rect x="90.5" y="76.5" width="3" height="0.7"/><rect x="99" y="76.5" width="3" height="0.7"/><rect x="107.5" y="76.5" width="3" height="0.7"/><rect x="116" y="76.5" width="3" height="0.7"/><rect x="124.5" y="76.5" width="3" height="0.7"/><rect x="133" y="76.5" width="3" height="0.7"/><rect x="141.5" y="76.5" width="3" height="0.7"/><rect x="150" y="76.5" width="3" height="0.7"/><rect x="158.5" y="76.5" width="3" height="0.7"/>
 </g>
 <g fill="#b0b0b0">
  <rect x="15" y="80" width="1" height="8"/><rect x="23.5" y="80" width="1" height="8"/><rect x="32" y="80" width="1" height="9"/><rect x="40.5" y="80" width="1" height="8"/><rect x="49" y="80" width="1" height="8"/><rect x="57.5" y="80" width="1" height="8"/><rect x="66" y="80" width="1" height="8"/><rect x="74.5" y="80" width="1" height="9"/><rect x="83" y="80" width="1" height="9"/><rect x="91.5" y="80" width="1" height="7"/><rect x="100" y="80" width="1" height="9"/><rect x="108.5" y="80" width="1" height="8"/><rect x="117" y="80" width="1" height="8"/><rect x="125.5" y="80" width="1" height="9"/><rect x="134" y="80" width="1" height="10"/><rect x="142.5" y="80" width="1" height="10"/><rect x="151" y="80" width="1" height="10"/><rect x="159.5" y="80" width="1" height="10"/>
 </g>
 <g fill="#bbb"><circle cx="15.5" cy="79" r="0.9"/><circle cx="24" cy="79" r="0.9"/><circle cx="32.5" cy="79" r="0.9"/><circle cx="41" cy="79" r="0.9"/><circle cx="49.5" cy="79" r="0.9"/><circle cx="58" cy="79" r="0.9"/><circle cx="66.5" cy="79" r="0.9"/><circle cx="75" cy="79" r="0.9"/><circle cx="83.5" cy="79" r="0.9"/><circle cx="92" cy="79" r="0.9"/><circle cx="100.5" cy="79" r="0.9"/><circle cx="109" cy="79" r="0.9"/><circle cx="117.5" cy="79" r="0.9"/><circle cx="126" cy="79" r="0.9"/><circle cx="134.5" cy="79" r="0.9"/><circle cx="143" cy="79" r="0.9"/><circle cx="151.5" cy="79" r="0.9"/><circle cx="160" cy="79" r="0.9"/></g>
 <rect x="113" y="94.5" width="50" height="0.8" fill="#6a8ac8"/>
</svg></div><div class="lbl">车辆轨迹监管</div></div>

<!-- LEFT COLUMN -->
<div class="card c4" style="left:67.5px;top:221px"><div class="img" id="imgK"><svg id="svK" width="175" height="96" viewBox="0 0 175 96" preserveAspectRatio="none">
 <defs>
  <radialGradient id="gK1" cx="0.55" cy="0.5" r="0.7"><stop offset="0" stop-color="#3a4248"/><stop offset="1" stop-color="#151c20"/></radialGradient>
 </defs>
 <rect width="175" height="96" fill="url(#gK1)"/>
 <rect width="175" height="6" fill="#0e1a2a"/>
 <path d="M68 0 L112 0 L108 5 L72 5 Z" fill="#1a3a70"/>
 <rect x="75" y="1.5" width="30" height="1.5" fill="#6a90d0"/>
 <g fill="#9aa0a8"><rect x="146" y="1.5" width="5" height="1"/><rect x="155" y="1.5" width="5" height="1"/><rect x="164" y="1.5" width="5" height="1"/></g>
 <rect x="0" y="7" width="175" height="6" fill="#1a2226"/>
 <rect x="2" y="8" width="16" height="2" fill="#2a4a7a"/>
 <rect x="52" y="8.5" width="20" height="1.2" fill="#6a7a70"/><rect x="104" y="8.5" width="20" height="2" fill="#2a6a8a"/>
 <rect x="28" y="12" width="110" height="0.8" fill="#5a8a7a"/>
 <g fill="#1f3560"><rect x="3" y="14" width="13" height="5"/><rect x="17" y="14" width="11" height="5"/><rect x="31" y="14" width="12" height="5"/></g>
 <rect x="30" y="18" width="40" height="22" fill="#5a6068"/>
 <g fill="#2a2e38"><rect x="33" y="20" width="3" height="4"/><rect x="38" y="20" width="3" height="4"/><rect x="43" y="20" width="3" height="4"/><rect x="48" y="20" width="3" height="4"/><rect x="33" y="25" width="3" height="4"/><rect x="38" y="25" width="3" height="4"/></g>
 <g fill="#c8d4e0"><rect x="54" y="21" width="2" height="2"/><rect x="60" y="20" width="2" height="6"/><rect x="64" y="20" width="2" height="6"/><rect x="56" y="30" width="2" height="3"/><rect x="60" y="32" width="3" height="2"/></g>
 <rect x="66" y="34" width="2.5" height="4" fill="#7ac8e8"/>
 <rect x="72" y="18" width="32" height="22" fill="#c9ced6"/>
 <rect x="0" y="38" width="44" height="40" fill="#1e3c74" opacity="0.9"/>
 <g fill="#2a5aa0"><rect x="6" y="42" width="5" height="2.5"/><rect x="6" y="46" width="5" height="2.5"/><rect x="6" y="51" width="5" height="2.5"/><rect x="26" y="42" width="5" height="2.5"/><rect x="26" y="46" width="4" height="2.5"/></g>
 <g fill="#9ab0d8"><rect x="13" y="43" width="10" height="0.8"/><rect x="13" y="47" width="10" height="0.8"/><rect x="13" y="52" width="10" height="0.8"/><rect x="32" y="43" width="3" height="0.8"/></g>
 <rect x="2" y="56" width="40" height="1" fill="#3a6ac0"/>
 <g fill="#8aa0c8"><rect x="20" y="59" width="7" height="0.7"/><rect x="20" y="62" width="7" height="0.7"/><rect x="20" y="65" width="7" height="0.7"/><rect x="20" y="68" width="7" height="0.7"/><rect x="20" y="71" width="7" height="0.7"/><rect x="20" y="74" width="7" height="0.7"/><rect x="35" y="59" width="2" height="0.7"/><rect x="35" y="62" width="2" height="0.7"/><rect x="35" y="65" width="2" height="0.7"/><rect x="35" y="68" width="2" height="0.7"/><rect x="35" y="71" width="2" height="0.7"/><rect x="8" y="62" width="5" height="0.7"/><rect x="8" y="71" width="5" height="0.7"/></g>
 <path d="M44 40 L108 40 L108 80 L44 80 Z" fill="#40464c"/>
 <rect x="44" y="44" width="12" height="11" fill="#c8ccd2"/>
 <rect x="60" y="44" width="8" height="11" fill="#e4e8ee"/>
 <rect x="72" y="46" width="16" height="8" fill="#eef2f6"/><rect x="77" y="44" width="10" height="3" fill="#eef2f6"/>
 <rect x="44" y="59" width="14" height="6" fill="#b8dcec"/>
 <rect x="64" y="59" width="28" height="16" fill="#a8b4c4"/>
 <rect x="92" y="59" width="14" height="16" fill="#e4eaf0"/>
 <rect x="70" y="66" width="10" height="4" fill="#6ac0c8"/>
 <rect x="70" y="79" width="26" height="2" fill="#dfe4ea"/>
 <path d="M108 12 L132 12 L170 46 L170 76 L108 76 Z" fill="#1c2a22"/>
 <path d="M110 38 L150 38 L172 56 L172 72 L138 72 L110 58 Z" fill="#24342a" stroke="#3a7a70" stroke-width="0.6"/>
 <rect x="112" y="14" width="17" height="5" rx="2" fill="#2a3a30"/><rect x="113" y="15" width="15" height="3" fill="#b8c0b0"/>
 <rect x="112" y="26" width="16" height="5" rx="2" fill="#2a3a30"/><rect x="115" y="27" width="10" height="3" fill="#d8d8c0"/>
 <circle cx="143" cy="27" r="4" fill="#b8c0c8"/><circle cx="152" cy="31" r="3.8" fill="#b8c0c8"/>
 <g stroke="#d8e0d0" stroke-width="0.6"><circle cx="115" cy="49" r="3" fill="#2a8a80"/><circle cx="126" cy="46" r="3.8" fill="#2a8a80"/><circle cx="137" cy="46" r="3.8" fill="#2a8a80"/><circle cx="151" cy="55" r="4.4" fill="#2a7a70"/><circle cx="164" cy="55" r="4.4" fill="#2a6a60"/><circle cx="162" cy="64" r="3.4" fill="#2a5a50"/><circle cx="170" cy="64" r="3" fill="#2a5a50"/></g>
 <rect x="113" y="40" width="3" height="4" fill="#8ad0f0"/>
 <rect x="147" y="64" width="9" height="3" fill="#c8c8b0"/>
 <circle cx="166" cy="80" r="4.5" fill="#1e5ac8" stroke="#5a9ae8" stroke-width="0.6"/>
 <rect x="164" y="79.5" width="4" height="1.2" fill="#fff"/>
 <rect x="0" y="78" width="175" height="0.8" fill="#7a8a70"/>
 <rect x="44" y="83" width="131" height="6" fill="#18261c"/>
 <rect x="44" y="85" width="85" height="0.6" fill="#c0c8b8"/>
 <g fill="#2a4a80"><rect x="2" y="79" width="10" height="0.8"/><rect x="2" y="83" width="10" height="0.8"/><rect x="2" y="87" width="10" height="0.8"/></g>
 <rect x="44" y="91" width="100" height="5" fill="#1a2a4a"/>
 <g fill="#5a7ab0"><rect x="48" y="93" width="8" height="1"/><rect x="62" y="93" width="8" height="1"/><rect x="76" y="93" width="8" height="1"/><rect x="90" y="93" width="8" height="1"/><rect x="104" y="93" width="8" height="1"/><rect x="118" y="93" width="8" height="1"/></g>
</svg></div><div class="lbl">餐厨垃圾处置厂</div></div>
<div class="card c4" style="left:69px;top:408.5px;height:143px"><div class="img" id="imgL"><svg id="svL" width="175" height="96" viewBox="0 0 175 96" preserveAspectRatio="none">
 <defs>
  <pattern id="pGrid" width="6" height="6" patternUnits="userSpaceOnUse"><path d="M6 0 L0 0 L0 6" fill="none" stroke="#1d3236" stroke-width="0.4"/></pattern>
  <linearGradient id="gL1" x1="0" y1="0" x2="0" y2="1"><stop offset="0" stop-color="#e8eaea"/><stop offset="1" stop-color="#dcdedd"/></linearGradient>
 </defs>
 <rect width="175" height="96" fill="#0c171b"/>
 <rect width="175" height="96" fill="url(#pGrid)"/>
 <path d="M2 2 L51 2 L51 95" fill="none" stroke="#1f4a50" stroke-width="0.6"/>
 <rect x="2" y="3" width="15" height="4" rx="2" fill="#1e6a70"/>
 <rect x="54" y="3" width="121" height="8" fill="#0f2226"/>
 <path d="M54 3 L175 3" stroke="#2a5a60" stroke-width="0.6"/>
 <circle cx="16.7" cy="16.2" r="8" fill="#141e22" stroke="#2a3a40" stroke-width="0.6"/>
 <circle cx="16.7" cy="16.2" r="4.5" fill="none" stroke="#3a2a2a" stroke-width="0.4"/>
 <circle cx="37.4" cy="16.2" r="8" fill="#0f2a22" stroke="#1e8a5a" stroke-width="0.8"/>
 <circle cx="37.4" cy="16.2" r="4.5" fill="none" stroke="#1e6a4a" stroke-width="0.4"/>
 <g fill="#2a8a80"><rect x="10" y="26" width="14" height="2"/><rect x="31" y="26" width="14" height="2" fill="#2a9a60"/></g>
 <rect x="2" y="33" width="20" height="3" rx="1.5" fill="#1e6a70"/>
 <g fill="#bcc8cc"><rect x="7" y="40" width="5" height="1.3"/><rect x="19" y="40" width="4" height="1.3"/><rect x="31" y="40" width="12" height="1.3"/></g>
 <g fill="#7a8a8e"><rect x="6" y="48" width="8" height="1"/><rect x="18" y="48" width="8" height="1"/><rect x="6" y="53" width="8" height="1"/><rect x="18" y="53" width="8" height="1"/><rect x="6" y="58" width="8" height="1"/><rect x="18" y="58" width="8" height="1"/><rect x="6" y="63" width="8" height="1"/><rect x="18" y="63" width="8" height="1"/><rect x="45" y="48" width="5" height="1"/><rect x="45" y="53" width="5" height="1"/><rect x="45" y="58" width="5" height="1"/><rect x="45" y="63" width="5" height="1"/></g>
 <rect x="29" y="47.5" width="13" height="1.8" fill="#3aaa70"/><rect x="29" y="52.5" width="13" height="1.8" fill="#3aaa70"/>
 <rect x="29" y="57.5" width="13" height="1.8" fill="#d03030"/><rect x="29" y="62.5" width="13" height="1.8" fill="#d03030"/>
 <rect x="2" y="76" width="20" height="3" rx="1.5" fill="#1e6a70"/>
 <g fill="#bcc8cc"><rect x="11" y="82" width="10" height="1.5"/><rect x="32" y="82" width="10" height="1.5"/></g>
 <g fill="#6a7a7e"><rect x="12" y="86" width="0.6" height="9"/><rect x="15" y="86" width="0.6" height="9"/><rect x="18" y="86" width="0.6" height="9"/><rect x="21" y="86" width="0.6" height="9"/><rect x="33" y="86" width="0.6" height="9"/><rect x="36" y="86" width="0.6" height="9"/><rect x="39" y="86" width="0.6" height="9"/><rect x="42" y="86" width="0.6" height="9"/></g>
 <rect x="53.5" y="12.5" width="121.5" height="70" fill="none" stroke="#1e6a6a" stroke-width="1"/>
 <rect x="55" y="14" width="119" height="67" fill="url(#gL1)"/>
 <rect x="55" y="14" width="14" height="20" fill="#b8bcbc"/>
 <rect x="94" y="14" width="24" height="16" fill="#a8b0b8"/>
 <rect x="100" y="16" width="6" height="10" fill="#8aa0c0"/>
 <path d="M140 30 C142 22 150 18 156 22 C162 16 172 18 174 26 L174 40 L140 40 Z" fill="#5a8a3a"/>
 <path d="M120 34 C124 28 128 28 132 32 L132 36 L120 36 Z" fill="#5a8a3a"/>
 <path d="M55 38 C60 32 66 34 70 40 L70 46 L55 46 Z" fill="#4a7a3a"/>
 <rect x="55" y="70" width="119" height="11" fill="#8a8e90"/>
 <path d="M57 62 L57 44 C58 38 66 36 70 40 L78 50 L78 62 Z" fill="#2a9a98"/>
 <rect x="62" y="44" width="62" height="16" rx="6" fill="#eef0f0"/>
 <path d="M80 48 L112 48 L112 54 L80 54 Z" fill="#2a9a98" opacity="0.6"/>
 <rect x="87" y="40" width="4" height="24" fill="#2a2a2a"/>
 <rect x="100" y="40" width="3" height="24" fill="#e8e8e8"/>
 <path d="M128 30 L166 30 C170 30 172 34 172 40 L173 72 L128 72 Z" fill="#f4f6f6"/>
 <path d="M132 33 L150 33 L150 48 L132 48 Z" fill="#3a4448"/>
 <path d="M152 33 L168 33 L171 47 L152 47 Z" fill="#4a585c"/>
 <rect x="134" y="52" width="16" height="6" fill="#e0ecf4"/>
 <rect x="168" y="58" width="6" height="6" fill="#2a2a2a"/>
 <rect x="93" y="62" width="26" height="12" fill="#d8dada"/>
 <rect x="60" y="58" width="68" height="4" fill="#d0d4d4"/>
 <circle cx="70" cy="71" r="7.5" fill="#2a2c2e"/><circle cx="70" cy="71" r="3.5" fill="#6a6c6e"/>
 <circle cx="134" cy="73" r="8.5" fill="#2a2c2e"/><circle cx="134" cy="73" r="4" fill="#9a9c9e"/>
 <rect x="78" y="64" width="10" height="10" fill="#3a3c3e"/>
 <rect x="54" y="84" width="121" height="12" fill="#0f1f22"/>
 <path d="M54 84 L175 84" stroke="#1e5a5a" stroke-width="0.6"/>
 <rect x="106" y="89" width="12" height="2" fill="#2a8a80"/>
</svg></div><div class="lbl">进厂地磅称重</div></div>

<!-- TRUCK + FLAG -->
<svg class="full" width="1594" height="749" viewBox="0 0 1594 749" style="pointer-events:none">
  <rect x="301" y="85" width="2" height="54" fill="#8aa6d6"/>
  <path d="M194.2 85 H301 V121 H194.2 L201.7 103 Z" fill="#3866b6"/>
  <!-- hook -->
  <circle cx="251.8" cy="134.3" r="4" fill="none" stroke="#9aa3ad" stroke-width="1"/>
  <path d="M247 139 L250 136 M256 139 L253 136" stroke="#9aa3ad" stroke-width="1"/>
  <!-- body -->
  <defs>
    <linearGradient id="tb" x1="0" y1="0" x2="0" y2="1"><stop offset="0" stop-color="#eef0f2"/><stop offset="0.5" stop-color="#e2e5e8"/><stop offset="1" stop-color="#cfd3d7"/></linearGradient>
    <linearGradient id="tg" x1="0" y1="0" x2="1" y2="0"><stop offset="0" stop-color="#2a8a3a"/><stop offset="1" stop-color="#3aa24a"/></linearGradient>
  </defs>
  <path d="M272 138 H343 Q345 138 345 140 V176 H259 Z" fill="url(#tb)"/>
  <rect x="272" y="137.5" width="71" height="1.5" fill="#c5cad0"/>
  <path d="M266.8 160 H327 V166 H265.5 Z" fill="#2f9a3e"/>
  <rect x="327.5" y="152" width="15" height="16" rx="2" fill="#e9ecef" stroke="#c9ced3" stroke-width="0.6"/>
  <!-- green rear -->
  <path d="M233 141 L273.5 139 L258 188.5 H233 Z" fill="url(#tg)"/>
  <rect x="233" y="141" width="9" height="47.5" fill="#247c33"/>
  <path d="M273.5 139 L258 188.5" stroke="#e8f0e8" stroke-width="1"/>
  <path d="M253.5 157.6 L267.6 150" stroke="#e8f0e8" stroke-width="1"/>
  <rect x="233" y="180" width="7" height="8" fill="#4a4e52"/>
  <!-- chassis -->
  <rect x="259" y="173.5" width="42" height="5" fill="#4a4e53"/>
  <rect x="300" y="175" width="50" height="11" fill="#36393d"/>
  <rect x="303" y="177.5" width="44" height="1" fill="#5a5e63"/>
  <rect x="306" y="181" width="8" height="3" fill="#8a8e92"/>
  <rect x="325" y="181" width="8" height="3" fill="#8a8e92"/>
  <!-- cab -->
  <path d="M348.6 147 H385 Q390.3 147 390.3 153 V186 Q390.3 188.5 387 188.5 H348.6 Z" fill="#f1f3f4"/>
  <path d="M364.5 154.3 H389.5 V181.8 H367 Q364.5 181.8 364.5 179 Z" fill="#2b2f34"/>
  <rect x="375" y="155" width="1.2" height="26" fill="#5a5f66"/>
  <rect x="348.6" y="147" width="1.2" height="41" fill="#d0d4d8"/>
  <rect x="386.5" y="148" width="3.5" height="5" fill="#e8873a"/>
  <rect x="385.5" y="182" width="4.5" height="3" fill="#e8873a"/>
  <!-- wheels -->
  <g>
    <circle cx="271" cy="184.5" r="9" fill="#3a3c40"/><circle cx="271" cy="184.5" r="6" fill="#7d8186"/><circle cx="271" cy="184.5" r="3" fill="#5d6166"/>
    <circle cx="291.9" cy="184.5" r="9" fill="#3a3c40"/><circle cx="291.9" cy="184.5" r="6" fill="#7d8186"/><circle cx="291.9" cy="184.5" r="3" fill="#5d6166"/>
    <circle cx="360.3" cy="184.5" r="9" fill="#3a3c40"/><circle cx="360.3" cy="184.5" r="6" fill="#7d8186"/><circle cx="360.3" cy="184.5" r="3" fill="#5d6166"/>
  </g>
</svg>
<div class="abs" style="left:224.5px;top:92.5px;height:24px;line-height:24px;font-size:19.5px;font-weight:700;color:#fff;white-space:nowrap;-webkit-text-stroke:0.5px #fff">开始<span style="margin-left:3.5px">！</span></div>

<!-- NOTE BOX -->
<svg class="full" width="1594" height="749" viewBox="0 0 1594 749" style="pointer-events:none">
  <path d="M75 605.7 H259 Q265 605.7 265 611.7 V626 L273.4 634 L265 642 V661.2 Q265 667.2 259 667.2 H75 Q69.4 667.2 69.4 661.2 V611.7 Q69.4 605.7 75 605.7 Z" fill="#2446a3"/>
</svg>
<div class="abs nt" style="left:91px;top:615px">超时停留</div>
<div class="abs nt" style="left:180.5px;top:615px">超出区域</div>
<div class="abs nt" style="left:91px;top:635.5px">超速超载</div>
<div class="abs nt" style="left:180.5px;top:635.5px">偷油注水</div>
<svg class="full" width="1594" height="749" viewBox="0 0 1594 749" style="pointer-events:none">
  <g fill="#eef2fb"><circle cx="86.2" cy="620.6" r="2.5"/><circle cx="175.4" cy="620.6" r="2.5"/><circle cx="86.2" cy="644.4" r="2.5"/><circle cx="175.4" cy="644.4" r="2.5"/>
  <circle cx="150.5" cy="660.6" r="1"/><circle cx="156.9" cy="660.6" r="1"/><circle cx="163.3" cy="660.6" r="1"/><circle cx="169.7" cy="660.6" r="1"/><circle cx="176.1" cy="660.6" r="1"/><circle cx="182.5" cy="660.6" r="1"/></g>
</svg>

<!-- CENTER PLATFORM -->
<svg class="full" width="1594" height="749" viewBox="0 0 1594 749" style="pointer-events:none">
  <defs>
    <linearGradient id="pfs" x1="0" y1="0" x2="0" y2="1"><stop offset="0" stop-color="#1350a8"/><stop offset="0.6" stop-color="#104894"/><stop offset="1" stop-color="#0e4188"/></linearGradient>
    <linearGradient id="pfr" x1="0" y1="0" x2="0" y2="1"><stop offset="0" stop-color="#1553ae"/><stop offset="1" stop-color="#1655b0"/></linearGradient>
    <linearGradient id="scr" x1="0" y1="0" x2="1" y2="1"><stop offset="0" stop-color="#1b2f7c"/><stop offset="1" stop-color="#15256a"/></linearGradient>
    <linearGradient id="slv" x1="0" y1="0" x2="1" y2="0"><stop offset="0" stop-color="#b4a690"/><stop offset="1" stop-color="#7a6e62"/></linearGradient>
  </defs>
  <radialGradient id="glw" cx="0.5" cy="0.6" r="0.5"><stop offset="0.55" stop-color="#1a5cbc" stop-opacity="0.55"/><stop offset="1" stop-color="#1a5cbc" stop-opacity="0"/></radialGradient>
  <ellipse cx="775.3" cy="372" rx="100" ry="36" fill="url(#glw)"/>
  <path d="M686.5 386 V404 A88.8 22 0 0 0 864.1 404 V386 Z" fill="url(#pfs)"/>
  <ellipse cx="775.3" cy="386.5" rx="88.8" ry="25" fill="#0f3f8a"/>
  <ellipse cx="775.3" cy="384" rx="88.8" ry="24.5" fill="url(#pfr)"/>
  <ellipse cx="775.3" cy="384" rx="84" ry="18.5" fill="#1a64c2"/>
  <ellipse cx="775.3" cy="380" rx="82" ry="10.5" fill="#1552ad"/>
  <!-- monitor -->
  <path d="M717 305.7 H832 Q836.2 305.7 836.2 310 V363 H713.3 V310 Q713.3 305.7 717 305.7 Z" fill="#0c0d12"/>
  <path d="M717 305.7 H751 L754 311 H718.1 V363 H713.3 V310 Q713.3 305.7 717 305.7 Z" fill="url(#slv)"/>
  <rect x="718.1" y="311" width="113.7" height="52" fill="url(#scr)"/>
  <rect x="718.1" y="311" width="113.7" height="3" fill="#12205a"/>
  <g fill="#4a70c8" opacity="0.55">
    <path d="M738 322 L748 322 L788 363 L775 363 Z"/>
    <path d="M790 324 L800 324 L780 345 L772 340 Z"/>
    <path d="M800 340 L812 350 L806 363 L792 352 Z"/>
  </g>
  <g fill="none" stroke="#6a8ad8" stroke-width="0.6" opacity="0.8">
    <path d="M740 330 L770 363"/><path d="M755 326 L792 363"/><path d="M730 345 L756 322"/><path d="M770 348 L800 320"/><path d="M760 363 L790 333"/><path d="M795 330 L831 355"/><path d="M810 320 L831 335"/>
  </g>
  <rect x="719" y="316" width="19" height="19" fill="#17307a"/>
  <rect x="719" y="336" width="19" height="27" fill="#172e74"/>
  <rect x="813" y="316" width="18" height="18" fill="#18307a"/>
  <rect x="813" y="335" width="18" height="28" fill="#1a3580"/>
  <rect x="797" y="338" width="14" height="24" fill="#1b3884" opacity="0.9"/>
  <rect x="773" y="332" width="18" height="20" fill="#1c3a8a" opacity="0.8"/>
  <g fill="#101c50"><rect x="741" y="315.5" width="20" height="7"/><rect x="765" y="315.5" width="20" height="7"/><rect x="789" y="315.5" width="20" height="7"/></g>
  <g fill="#b8c8ec"><rect x="743" y="317.5" width="2.2" height="3"/><rect x="746.5" y="317.5" width="2.2" height="3"/><rect x="750" y="317.5" width="2.2" height="3"/><rect x="753.5" y="317.5" width="2.2" height="3"/><rect x="757" y="317.5" width="2.2" height="3"/>
  <rect x="767" y="317.5" width="2.2" height="3"/><rect x="770.5" y="317.5" width="2.2" height="3"/><rect x="774" y="317.5" width="2.2" height="3"/><rect x="777.5" y="317.5" width="2.2" height="3"/><rect x="781" y="317.5" width="2.2" height="3"/>
  <rect x="791" y="317.5" width="2.2" height="3"/><rect x="794.5" y="317.5" width="2.2" height="3"/><rect x="798" y="317.5" width="2.2" height="3"/><rect x="801.5" y="317.5" width="2.2" height="3"/><rect x="805" y="317.5" width="2.2" height="3"/></g>
  <g fill="#5a78c0"><rect x="720" y="341" width="16" height="0.8"/><rect x="720" y="345" width="16" height="0.8"/><rect x="720" y="349" width="16" height="0.8"/><rect x="720" y="353" width="16" height="0.8"/><rect x="720" y="357" width="16" height="0.8"/></g>
  <circle cx="727.8" cy="325.5" r="3.3" fill="none" stroke="#5aa0e8" stroke-width="1"/>
  <rect x="726.5" y="324.7" width="2.6" height="1.6" fill="#e0e8f8"/>
  <circle cx="820.8" cy="346.7" r="3.8" fill="none" stroke="#e8c040" stroke-width="1.2"/>
  <path d="M820.8 350.5 A3.8 3.8 0 0 1 817 346.7" fill="none" stroke="#4ac080" stroke-width="1.2"/>
  <rect x="745.4" y="334.4" width="9.7" height="7.4" fill="#f4f6fa"/>
  <rect x="746" y="343.5" width="12" height="0.8" fill="#6aa0c8"/>
  <g fill="#c8d4f0"><rect x="774" y="336" width="5" height="0.8"/><rect x="774" y="340" width="12" height="0.8"/><rect x="774" y="344" width="12" height="0.8"/><rect x="774" y="348" width="12" height="0.8"/></g>
  <!-- label -->
  <rect x="701.5" y="362.6" width="147" height="28.2" fill="#104595"/>
</svg>
<div class="abs" style="left:701.5px;top:362.6px;width:147px;height:28px;line-height:28px;text-align:center;font-size:18px;font-weight:700;color:#fff;-webkit-text-stroke:0.3px #fff">大数据指挥中心</div>

<!-- PILLS -->
<div class="pill" style="left:713px;top:224px;width:118px;height:35px;background:#3a97d7">收运准备</div>
<div class="pill" style="left:713px;top:470px;width:118px;height:35px;background:#1f46a0">作业监督</div>
<div class="vpill" style="left:305px;top:339.5px;background:#16397f">结<br>束<br>收<br>运</div>
<div class="vpill" style="left:1242px;top:339.5px;background:#10559a">作<br>业<br>统<br>计</div>

</div>
</body>
</html>
